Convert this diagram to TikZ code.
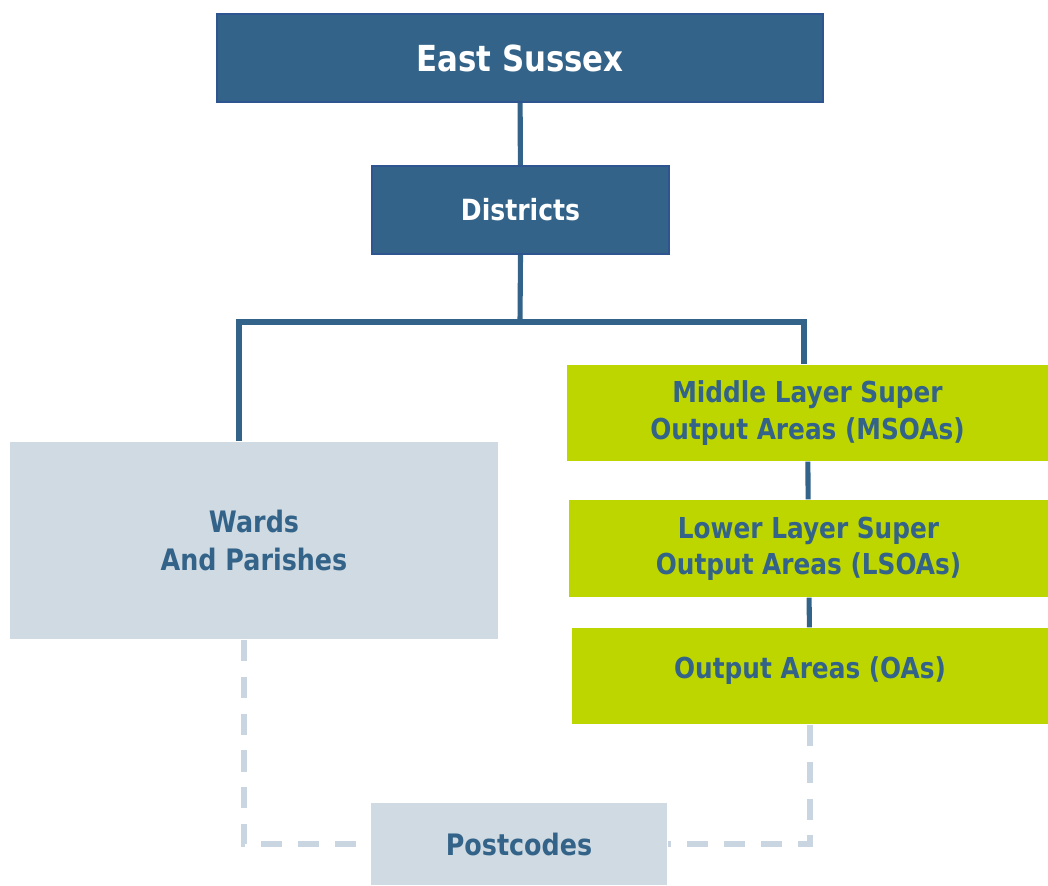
\documentclass[tikz,border=0pt]{standalone}
\usepackage{fontspec}
\setmainfont{DejaVu Sans}[FakeStretch=0.86]
\usepackage{tikz}

\definecolor{esblue}{HTML}{336388}
\definecolor{esedge}{HTML}{2F5590}
\definecolor{esgrey}{HTML}{CFDAE2}
\definecolor{esdash}{HTML}{C9D6E1}
\definecolor{eslime}{HTML}{BED600}

\tikzset{
  topbox/.style={rectangle,draw=esedge,line width=0.6pt,fill=esblue,text=white,font=\bfseries,inner sep=0pt},
  greybox/.style={rectangle,fill=esgrey,text=esblue,font=\bfseries\fontsize{8.4}{11}\selectfont,align=center,inner sep=0pt},
  limebox/.style={rectangle,fill=eslime,text=esblue,font=\bfseries\fontsize{8.2}{10.3}\selectfont,align=center,inner sep=0pt},
  link/.style={line width=1.45pt,draw=esblue},
  dashlink/.style={line width=1.45pt,draw=esdash,dash pattern=on 6pt off 4.5pt}
}

\begin{document}
\begin{tikzpicture}

\useasboundingbox (0,0) rectangle (10.48,-8.85);

% east sussex node
\node[topbox,minimum width=6.06cm,minimum height=0.88cm,font=\bfseries\fontsize{10.2}{12}\selectfont] (county) at (5.20,-0.58) {East Sussex};

% districts node
\node[topbox,minimum width=2.97cm,minimum height=0.88cm,font=\bfseries\fontsize{8.3}{10}\selectfont] (districts) at (5.205,-2.10) {Districts};

\draw[link] (county) -- (districts);

% wards node
\node[greybox,minimum width=4.88cm,minimum height=1.97cm] (wards) at (2.54,-5.405) {Wards\\And Parishes};

% census geography nodes
\node[limebox,minimum width=4.81cm,minimum height=0.96cm] (msoa) at (8.075,-4.13) {Middle Layer Super\\Output Areas (MSOAs)};
\node[limebox,minimum width=4.79cm,minimum height=0.97cm] (lsoa) at (8.085,-5.485) {Lower Layer Super\\Output Areas (LSOAs)};
\node[limebox,minimum width=4.76cm,minimum height=0.96cm,text depth=0.16cm] (oa) at (8.10,-6.76) {Output Areas (OAs)};

% postcodes node
\node[greybox,minimum width=2.96cm,minimum height=0.82cm] (postcodes) at (5.19,-8.44) {Postcodes};

% tree links
\coordinate (split) at (5.20,-3.22);
\draw[link] (districts.south) -- (split);
\draw[link] ([xshift=-0.15cm]wards.north) |- (split) -| ([xshift=-0.035cm]msoa.north);
\draw[link] (msoa) -- (lsoa);
\draw[link] (lsoa) -- (oa);

% postcode links
\draw[dashlink] ([xshift=-0.1cm]wards.south) |- (postcodes.west);
\draw[dashlink] (oa.south) |- (postcodes.east);

\end{tikzpicture}
\end{document}
